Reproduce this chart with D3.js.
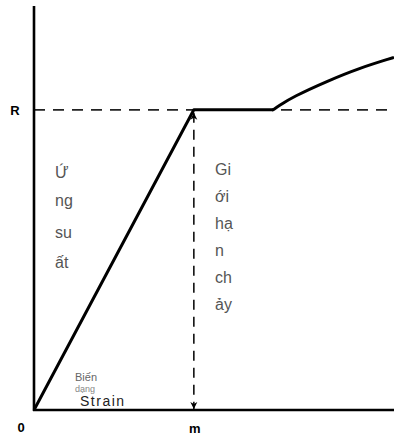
<!DOCTYPE html>
<html>
<head>
<meta charset="utf-8">
<script src="https://cdn.jsdelivr.net/npm/d3@7"></script>
<style>
  body { margin: 0; background: #fff; }
  svg { display: block; }
</style>
</head>
<body>
<div id="chart"></div>
<script>
var width = 394;
var height = 437;

// yield point R and strain at yield m (in % of axis)
var yieldStress = 74.3;
var yieldStrain = 44.4;
// elastic part + plateau
var elastic = [[0, 0], [44.4, 74.3], [66.4, 74.3]];
// hardening part
var hardening = [[66.4, 74.3], [68.0, 75.3], [71.9, 77.5], [81.4, 81.4], [90.6, 84.7], [99.7, 87.2]];
var stressLabel = ["Ứ", "ng", "su", "ất"];
var yieldLabel = ["Gi", "ới", "hạ", "n", "ch", "ảy"];

var x = d3.scaleLinear().domain([0, 100]).range([34, 394]);
var y = d3.scaleLinear().domain([0, 100]).range([410, 6]);

var svg = d3.select("#chart")
  .append("svg")
  .attr("width", width)
  .attr("height", height);

var defs = svg.append("defs");
defs.append("marker")
  .attr("id", "arrow")
  .attr("viewBox", "0 0 10 10")
  .attr("refX", 10).attr("refY", 5)
  .attr("markerWidth", 7).attr("markerHeight", 9)
  .attr("markerUnits", "userSpaceOnUse")
  .attr("orient", "auto-start-reverse")
  .append("path")
  .attr("d", "M0,0 L10,5 L0,10 L3,5 Z")
  .attr("fill", "#000");

// dashed R line
svg.append("line")
  .attr("x1", x(0)).attr("x2", x(100))
  .attr("y1", y(yieldStress)).attr("y2", y(yieldStress))
  .attr("stroke", "#222")
  .attr("stroke-width", 1.6)
  .attr("stroke-dasharray", "11,8");

// dashed vertical arrow
svg.append("line")
  .attr("x1", x(yieldStrain)).attr("x2", x(yieldStrain))
  .attr("y1", y(yieldStress) + 3).attr("y2", y(0) - 1)
  .attr("stroke", "#111")
  .attr("stroke-width", 1.6)
  .attr("stroke-dasharray", "10,7")
  .attr("marker-start", "url(#arrow)")
  .attr("marker-end", "url(#arrow)");

// axes
svg.append("line")
  .attr("x1", x(0)).attr("x2", x(0))
  .attr("y1", y(100)).attr("y2", y(0) + 1)
  .attr("stroke", "#000").attr("stroke-width", 2.6);
svg.append("line")
  .attr("x1", x(0) - 1).attr("x2", x(100))
  .attr("y1", y(0)).attr("y2", y(0))
  .attr("stroke", "#000").attr("stroke-width", 2.4);

// stress-strain curve
svg.append("path")
  .attr("d", d3.line().x(d => x(d[0])).y(d => y(d[1]))(elastic))
  .attr("fill", "none")
  .attr("stroke", "#000")
  .attr("stroke-width", 3)
  .attr("stroke-linejoin", "round");
svg.append("path")
  .attr("d", d3.line().x(d => x(d[0])).y(d => y(d[1])).curve(d3.curveBasis)(hardening))
  .attr("fill", "none")
  .attr("stroke", "#000")
  .attr("stroke-width", 3)
  .attr("stroke-linecap", "round");

// axis labels
var font = "Liberation Sans, Arial, sans-serif";
svg.append("text").attr("x", 15).attr("y", y(yieldStress) + 5)
  .attr("text-anchor", "middle")
  .style("font", "bold 13px " + font).text("R");
svg.append("text").attr("x", 21).attr("y", 432)
  .attr("text-anchor", "middle")
  .style("font", "bold 13px " + font).text("0");
svg.append("text").attr("x", x(yieldStrain) + 1).attr("y", 433)
  .attr("text-anchor", "middle")
  .style("font", "bold 13px " + font).text("m");

// vertical stress label
svg.append("g").selectAll("text")
  .data(stressLabel)
  .join("text")
  .attr("x", 55)
  .attr("y", (d, i) => [178, 206, 238, 268][i])
  .attr("fill", "#555")
  .style("font", "16px " + font)
  .text(d => d);

// vertical yield label
svg.append("g").selectAll("text")
  .data(yieldLabel)
  .join("text")
  .attr("x", 215)
  .attr("y", (d, i) => 175 + i * 27)
  .attr("fill", "#555")
  .style("font", "16px " + font)
  .text(d => d);

// strain labels
svg.append("text").attr("x", 75).attr("y", 381)
  .attr("fill", "#666")
  .style("font", "11px " + font)
  .text("Biến");
svg.append("text").attr("x", 75).attr("y", 392)
  .attr("fill", "#888")
  .style("font", "9px " + font)
  .text("dạng");
svg.append("text").attr("x", 80).attr("y", 406)
  .attr("fill", "#222")
  .style("font", "14px " + font)
  .style("letter-spacing", "1.5px")
  .text("Strain");
</script>
</body>
</html>
